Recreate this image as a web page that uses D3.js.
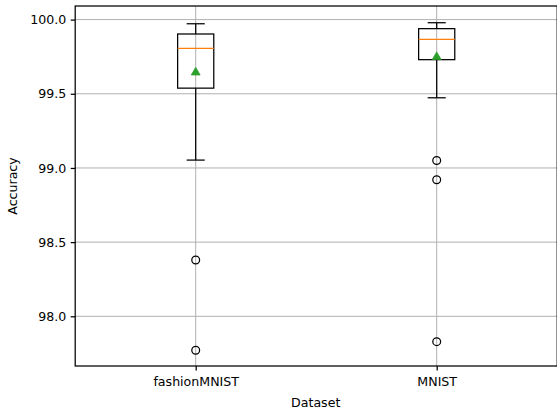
<!DOCTYPE html>
<html>
<head>
<meta charset="utf-8">
<script src="https://cdn.jsdelivr.net/npm/d3@7"></script>
<style>
  html, body { margin: 0; padding: 0; background: #fff; }
  svg { display: block; font-family: "DejaVu Sans", sans-serif; }
</style>
</head>
<body>
<svg id="chart" width="557" height="412"></svg>
<script>
// Accuracy distribution per dataset
const categories   = ["fashionMNIST", "MNIST"];
const whiskerLow   = [99.053, 99.473];
const q1           = [99.538, 99.730];
const medians      = [99.806, 99.867];
const q3           = [99.903, 99.939];
const whiskerHigh  = [99.972, 99.979];
const means        = [99.648, 99.752];
const outliers     = [[98.380, 97.771], [99.050, 98.920, 97.829]];
const yTicks       = [98.0, 98.5, 99.0, 99.5, 100.0];

const svg = d3.select("#chart");
const plot = { left: 75.2, right: 557.2, top: 6, bottom: 366 };

const x = d3.scaleLinear().domain([0.5, 2.5]).range([plot.left, plot.right]);
const y = d3.scaleLinear().domain([97.665, 100.0917]).range([plot.bottom, plot.top]);

const boxW = 0.15, capW = 0.075;
const lw = 1.25;
const fontSize = 12.6;

const boxes = categories.map((c, i) => ({
  name: c, pos: i + 1,
  lo: whiskerLow[i], q1: q1[i], med: medians[i], q3: q3[i], hi: whiskerHigh[i],
  mean: means[i], fliers: outliers[i]
}));

// grid
const grid = svg.append("g");
grid.selectAll("line.h").data(yTicks).join("line")
  .attr("x1", plot.left).attr("x2", plot.right)
  .attr("y1", d => y(d)).attr("y2", d => y(d))
  .attr("stroke", "#b0b0b0").attr("stroke-width", 1);
grid.selectAll("line.v").data(boxes).join("line")
  .attr("x1", d => x(d.pos)).attr("x2", d => x(d.pos))
  .attr("y1", plot.top).attr("y2", plot.bottom)
  .attr("stroke", "#b0b0b0").attr("stroke-width", 1);

// boxes
const g = svg.append("g").selectAll("g").data(boxes).join("g");
g.append("rect")
  .attr("x", d => x(d.pos - boxW / 2)).attr("width", d => x(d.pos + boxW / 2) - x(d.pos - boxW / 2))
  .attr("y", d => y(d.q3)).attr("height", d => y(d.q1) - y(d.q3))
  .attr("fill", "none").attr("stroke", "#000").attr("stroke-width", lw);
// whiskers
g.append("line")
  .attr("x1", d => x(d.pos)).attr("x2", d => x(d.pos))
  .attr("y1", d => y(d.q1)).attr("y2", d => y(d.lo))
  .attr("stroke", "#000").attr("stroke-width", lw);
g.append("line")
  .attr("x1", d => x(d.pos)).attr("x2", d => x(d.pos))
  .attr("y1", d => y(d.q3)).attr("y2", d => y(d.hi))
  .attr("stroke", "#000").attr("stroke-width", lw);
// caps
g.append("line")
  .attr("x1", d => x(d.pos - capW / 2)).attr("x2", d => x(d.pos + capW / 2))
  .attr("y1", d => y(d.lo)).attr("y2", d => y(d.lo))
  .attr("stroke", "#000").attr("stroke-width", lw);
g.append("line")
  .attr("x1", d => x(d.pos - capW / 2)).attr("x2", d => x(d.pos + capW / 2))
  .attr("y1", d => y(d.hi)).attr("y2", d => y(d.hi))
  .attr("stroke", "#000").attr("stroke-width", lw);
// medians
g.append("line")
  .attr("x1", d => x(d.pos - boxW / 2)).attr("x2", d => x(d.pos + boxW / 2))
  .attr("y1", d => y(d.med)).attr("y2", d => y(d.med))
  .attr("stroke", "#ff7f0e").attr("stroke-width", lw);
// means
g.append("path")
  .attr("d", d3.symbol().type(d3.symbolTriangle).size(34))
  .attr("transform", d => `translate(${x(d.pos)},${y(d.mean) + 0.6})`)
  .attr("fill", "#2ca02c").attr("stroke", "#2ca02c").attr("stroke-width", 0.8);
// fliers
g.selectAll("circle").data(d => d.fliers.map(v => ({ pos: d.pos, v }))).join("circle")
  .attr("cx", d => x(d.pos)).attr("cy", d => y(d.v)).attr("r", 3.9)
  .attr("fill", "none").attr("stroke", "#000").attr("stroke-width", lw);

// axes
const yAxis = d3.axisLeft(y).tickValues(yTicks).tickFormat(d3.format(".1f")).tickSize(4.5).tickPadding(4.5);
const xAxis = d3.axisBottom(x).tickValues([1, 2]).tickFormat(d => categories[d - 1]).tickSize(4.5).tickPadding(6.5);

const ya = svg.append("g").attr("transform", `translate(${plot.left},0)`).call(yAxis);
const xa = svg.append("g").attr("transform", `translate(0,${plot.bottom})`).call(xAxis);
[ya, xa].forEach(a => {
  a.select(".domain").remove();
  a.selectAll("text").attr("font-size", fontSize).attr("font-family", "DejaVu Sans").attr("fill", "#000");
  a.selectAll("line").attr("stroke", "#000").attr("stroke-width", lw);
});

// spines
svg.append("rect")
  .attr("x", plot.left).attr("y", plot.top)
  .attr("width", plot.right - plot.left).attr("height", plot.bottom - plot.top)
  .attr("fill", "none").attr("stroke", "#000").attr("stroke-width", lw);

// axis titles
svg.append("text")
  .attr("x", (plot.left + plot.right) / 2 - 0.5).attr("y", 406.8)
  .attr("text-anchor", "middle").attr("font-size", fontSize).text("Dataset");
svg.append("text")
  .attr("transform", `translate(17.4,${(plot.top + plot.bottom) / 2}) rotate(-90)`)
  .attr("text-anchor", "middle").attr("font-size", fontSize).text("Accuracy");
</script>
</body>
</html>
